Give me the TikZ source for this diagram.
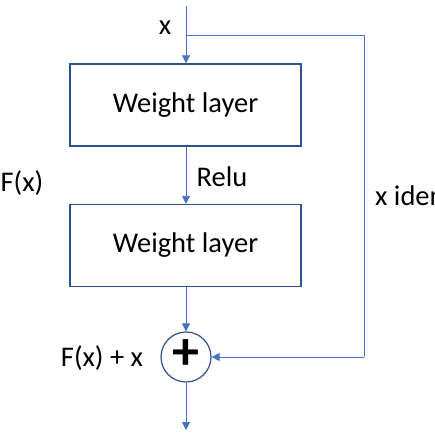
\documentclass[tikz,border=0pt]{standalone}
\usepackage{fontspec}
\setmainfont{Carlito}
\usetikzlibrary{arrows.meta}
\definecolor{lineblue}{RGB}{68,114,196}
\definecolor{boxblue}{RGB}{47,82,143}
\tikzset{
  conn/.style={draw=lineblue, line width=0.9pt, -{Triangle[length=8pt,width=8pt]}},
  plain/.style={draw=lineblue, line width=0.9pt},
  wbox/.style={draw=boxblue, line width=1.4pt, minimum width=231pt, minimum height=82pt, inner sep=0pt, font=\fontsize{28.5}{32}\selectfont},
  lbl/.style={font=\fontsize{28.5}{32}\selectfont, inner sep=0pt},
  sumc/.style={circle, draw=boxblue, line width=1.2pt, minimum size=50pt, inner sep=0pt}
}
\begin{document}
\begin{tikzpicture}[x=1pt,y=-1pt]
\useasboundingbox (0,0) rectangle (435,436);
\clip (0,0) rectangle (435,436);
\coordinate (top) at (186,6);
\coordinate (br) at (186,35);
\coordinate (rt) at (364,35);
\coordinate (rb) at (364,357);
\coordinate (out) at (186,430);
\node[wbox] (w1) at (185.5,105) {Weight layer};
\node[wbox] (w2) at (185.5,245.5) {Weight layer};
\node[sumc] (sum) at (186,357) {};
\node[font=\bfseries\fontsize{54}{54}\selectfont, inner sep=0pt] (plus) at (186,355) {+};
\draw[conn] (top) -- (w1.north -| top);
\draw[plain] (br) -- (rt) -- (rb);
\draw[conn] (rb) -- (sum.east);
\draw[conn] (w1.south -| top) -- (w2.north -| top);
\draw[conn] (w2.south -| top) -- (sum.north);
\draw[conn] (sum.south) -- (out);
\node[lbl] (lx) at (165,28) {x};
\node[lbl] (lf) at (22,183) {F(x)};
\node[lbl] (lr) at (222,177) {Relu};
\node[lbl, anchor=west] (li) at (375,198) {x identity};
\node[lbl] (lfx) at (102,358) {F(x) + x};
\end{tikzpicture}
\end{document}
